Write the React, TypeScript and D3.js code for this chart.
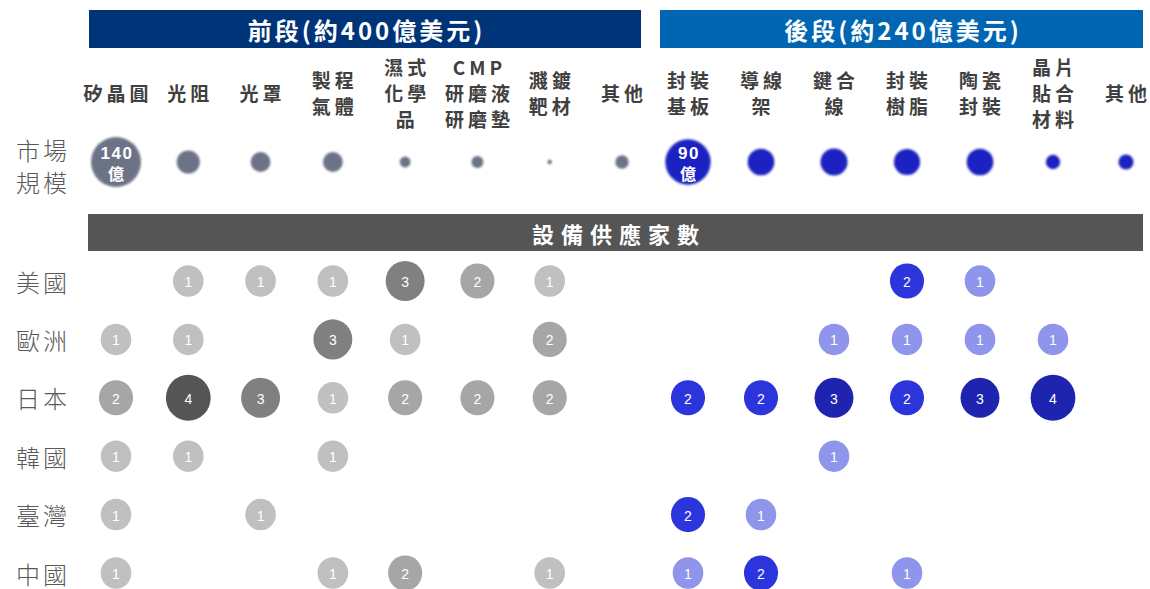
import React from 'react';
import * as d3 from 'd3';

// categories (label lines) per segment
const frontCategories = [['矽晶圓'], ['光阻'], ['光罩'], ['製程', '氣體'], ['濕式', '化學', '品'], ['CMP', '研磨液', '研磨墊'], ['濺鍍', '靶材'], ['其他']];
const backCategories = [['封裝', '基板'], ['導線', '架'], ['鍵合', '線'], ['封裝', '樹脂'], ['陶瓷', '封裝'], ['晶片', '貼合', '材料'], ['其他']];

// market size, 億美元
const frontMarket = [140, 30, 22, 22, 6.5, 8, 1.2, 10];
const backMarket = [90, 31, 32, 30, 31, 9, 10];

const countries = ['美國', '歐洲', '日本', '韓國', '臺灣', '中國'];

// number of equipment suppliers, 0 = none
const frontSuppliers = [
  [0, 1, 1, 1, 3, 2, 1, 0],
  [1, 1, 0, 3, 1, 0, 2, 0],
  [2, 4, 3, 1, 2, 2, 2, 0],
  [1, 1, 0, 1, 0, 0, 0, 0],
  [1, 0, 1, 0, 0, 0, 0, 0],
  [1, 0, 0, 1, 2, 0, 1, 0],
];
const backSuppliers = [
  [0, 0, 0, 2, 1, 0, 0],
  [0, 0, 1, 1, 1, 1, 0],
  [2, 2, 3, 2, 3, 4, 0],
  [0, 0, 1, 0, 0, 0, 0],
  [2, 1, 0, 0, 0, 0, 0],
  [1, 2, 0, 1, 0, 0, 0],
];

const frontTitle = '前段(約400億美元)';
const backTitle = '後段(約240億美元)';
const supplierTitle = '設備供應家數';
const marketLabel = ['市場', '規模'];

const CJK = '"Noto Sans CJK TC", "Noto Sans", sans-serif';
const LATIN = '"Liberation Sans", Arial, sans-serif';

export default function App() {
  const width = 1150, height = 589;

  const frontX = d3.scalePoint<number>().domain(d3.range(frontCategories.length)).range([116, 622]);
  const backX = d3.scalePoint<number>().domain(d3.range(backCategories.length)).range([688, 1126]);
  const rowY = d3.scalePoint<string>().domain(countries).range([281, 573]);

  const frontR = d3.scaleSqrt().domain([0, 140]).range([0, 25]);
  const backR = d3.scaleSqrt().domain([0, 90]).range([0, 22.7]);
  const countR = d3.scalePow().exponent(1.6).domain([1, 4]).range([15.3, 22.4]);

  const frontColor = d3.scaleOrdinal<number, string>().domain([1, 2, 3, 4]).range(['#c0c0c0', '#a6a6a6', '#808080', '#555555']);
  const backColor = d3.scaleOrdinal<number, string>().domain([1, 2, 3, 4]).range(['#8e95ea', '#2c35dc', '#1f24b0', '#1f24b0']);

  const headerMidY = 92, lineH = 26, marketY = 162;

  const segments = [
    { cats: frontCategories, x: frontX, market: frontMarket, r: frontR, sup: frontSuppliers, color: frontColor, bubble: '#6c7386' },
    { cats: backCategories, x: backX, market: backMarket, r: backR, sup: backSuppliers, color: backColor, bubble: '#1e22c2' },
  ];

  return (
    <svg width={width} height={height} style={{ position: 'absolute', left: 0, top: 0, background: '#fff' }}>
      <defs>
        <filter id="soft" x="-20%" y="-20%" width="140%" height="140%">
          <feGaussianBlur stdDeviation="0.8" />
        </filter>
      </defs>

      {/* segment title bars */}
      <rect x={89} y={10} width={552} height={38} fill="#003478" />
      <text x={365} y={29} dx={1.5} textAnchor="middle" dominantBaseline="central" fill="#fff"
        fontFamily={CJK} fontWeight={700} fontSize={24} letterSpacing={3}>{frontTitle}</text>
      <rect x={660} y={10} width={483} height={38} fill="#0066b3" />
      <text x={901.5} y={29} dx={1.5} textAnchor="middle" dominantBaseline="central" fill="#fff"
        fontFamily={CJK} fontWeight={700} fontSize={24} letterSpacing={3}>{backTitle}</text>

      {/* column headers */}
      {segments.map((s, si) => s.cats.map((lines, i) => (
        <text key={`h${si}-${i}`} textAnchor="middle" fill="#404040" fontFamily={CJK}
          fontWeight={700} fontSize={19} letterSpacing={4}>
          {lines.map((l, j) => (
            <tspan key={j} x={s.x(i)! + 2} y={headerMidY + (j - (lines.length - 1) / 2) * lineH}
              dominantBaseline="central">{l}</tspan>
          ))}
        </text>
      )))}

      {/* market size row */}
      {marketLabel.map((l, j) => (
        <text key={l} x={16} y={149 + j * 32} dominantBaseline="central" fill="#595959"
          fontFamily={CJK} fontWeight={300} fontSize={24} letterSpacing={3}>{l}</text>
      ))}
      {segments.map((s, si) => s.market.map((v, i) => (
        <g key={`m${si}-${i}`}>
          <circle cx={s.x(i)} cy={marketY} r={s.r(v)} fill={s.bubble} filter="url(#soft)" />
          {i === 0 && (
            <>
              <text x={s.x(i)! + 1} y={marketY - 9} textAnchor="middle" dominantBaseline="central" fill="#fff"
                fontFamily={LATIN} fontWeight={700} fontSize={17} letterSpacing={1.5}>{v}</text>
              <text x={s.x(i)} y={marketY + 11} textAnchor="middle" dominantBaseline="central" fill="#fff"
                fontFamily={CJK} fontWeight={700} fontSize={16}>億</text>
            </>
          )}
        </g>
      )))}

      {/* supplier title bar */}
      <rect x={88} y={214} width={1055} height={37} fill="#555555" />
      <text x={615.5} y={232.5} dx={3.5} textAnchor="middle" dominantBaseline="central" fill="#fff"
        fontFamily={CJK} fontWeight={700} fontSize={22} letterSpacing={7}>{supplierTitle}</text>

      {/* country rows */}
      {countries.map((c, ci) => (
        <g key={c}>
          <text x={16} y={rowY(c)} dominantBaseline="central" fill="#595959"
            fontFamily={CJK} fontWeight={300} fontSize={24} letterSpacing={3}>{c}</text>
          {segments.map((s, si) => s.sup[ci].map((v, i) => v > 0 && (
            <g key={`${si}-${i}`}>
              <ellipse cx={s.x(i)} cy={rowY(c)} rx={countR(v)} ry={countR(v) * 1.03} fill={s.color(v)} />
              <text x={s.x(i)} y={rowY(c)! + 1} textAnchor="middle" dominantBaseline="central" fill="#fff"
                fontFamily={LATIN} fontSize={14}>{v}</text>
            </g>
          )))}
        </g>
      ))}
    </svg>
  );
}
